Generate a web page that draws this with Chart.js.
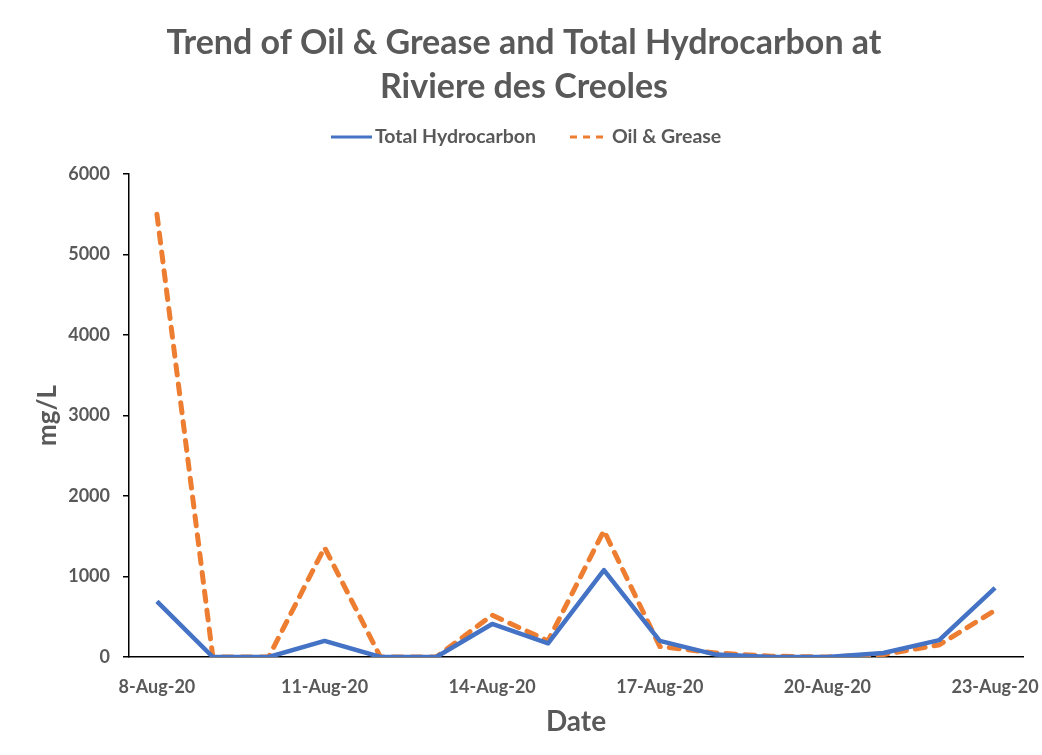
<!DOCTYPE html>
<html>
<head>
<meta charset="utf-8">
<script src="https://cdn.jsdelivr.net/npm/chart.js@4/dist/chart.umd.min.js"></script>
<style>
html,body{margin:0;padding:0;background:#fff;}
#wrap{width:1042px;height:755px;position:relative;}
</style>
</head>
<body>
<div id="wrap"><canvas id="c"></canvas></div>
<script>
const dates = ["8-Aug-20","9-Aug-20","10-Aug-20","11-Aug-20","12-Aug-20","13-Aug-20","14-Aug-20","15-Aug-20","16-Aug-20","17-Aug-20","18-Aug-20","19-Aug-20","20-Aug-20","21-Aug-20","22-Aug-20","23-Aug-20"];
const totalHydrocarbon = [690, 0, 0, 200, 0, 0, 410, 170, 1080, 200, 30, 0, 0, 50, 210, 860];
const oilGrease = [5500, 0, 0, 1360, 0, 0, 520, 200, 1570, 130, 50, 10, 0, 30, 150, 580];
const yTicks = [0, 1000, 2000, 3000, 4000, 5000, 6000];
const titleLines = ["Trend of Oil & Grease and Total Hydrocarbon at", "Riviere des Creoles"];

const GRAY = '#595959';
const FONT = 'Lato, "Open Sans", sans-serif';

const headerPlugin = {
  id: 'header',
  afterDraw(chart) {
    const ctx = chart.ctx;
    ctx.save();
    ctx.fillStyle = GRAY;
    ctx.textAlign = 'center';
    ctx.textBaseline = 'middle';
    ctx.font = 'bold 34px ' + FONT;
    ctx.fillText(titleLines[0], 524, 43);
    ctx.fillText(titleLines[1], 524, 87);
    // legend
    const ds = chart.data.datasets;
    ctx.font = 'bold 19.5px ' + FONT;
    ctx.textAlign = 'left';
    const items = [{x1: 331, x2: 372, tx: 375}, {x1: 570, x2: 605, tx: 612}];
    ds.forEach((d, i) => {
      const it = items[i];
      ctx.beginPath();
      ctx.strokeStyle = d.borderColor;
      ctx.lineWidth = 3;
      ctx.setLineDash(d.borderDash ? [7, 6] : []);
      ctx.lineCap = 'butt';
      ctx.moveTo(it.x1, 137);
      ctx.lineTo(it.x2, 137);
      ctx.stroke();
      ctx.setLineDash([]);
      ctx.fillStyle = GRAY;
      ctx.fillText(d.label, it.tx, 137);
    });
    ctx.restore();
  }
};

new Chart(document.getElementById('c'), {
  type: 'line',
  data: {
    labels: dates,
    datasets: [
      {label: 'Total Hydrocarbon', data: totalHydrocarbon, borderColor: '#4472C4', backgroundColor: '#4472C4', borderWidth: 4.5, pointRadius: 0, tension: 0, borderJoinStyle: 'round'},
      {label: 'Oil & Grease', data: oilGrease, borderColor: '#ED7D31', backgroundColor: '#ED7D31', borderWidth: 5, borderDash: [10, 9], borderCapStyle: 'round', pointRadius: 0, tension: 0}
    ]
  },
  options: {
    responsive: true,
    maintainAspectRatio: false,
    animation: false,
    layout: {padding: {top: 174, right: 19, left: 0, bottom: 0}},
    plugins: {legend: {display: false}, title: {display: false}, tooltip: {enabled: false}},
    scales: {
      x: {
        offset: true,
        grid: {display: false, drawTicks: false},
        border: {display: true, color: '#000', width: 1.5},
        ticks: {
          autoSkip: false, maxRotation: 0, padding: 19, color: GRAY,
          font: {family: FONT, size: 18, weight: 'bold'},
          callback: function(v, i) { return i % 3 === 0 ? dates[i] : ''; }
        },
        title: {display: true, text: 'Date', color: GRAY, font: {family: FONT, size: 28, weight: 'bold'}, padding: {top: 0, bottom: 16}},
        afterFit(s) { s.height = 98; s.paddingLeft = 0; s.paddingRight = 0; }
      },
      y: {
        min: 0, max: 6000,
        afterBuildTicks(s) { s.ticks = yTicks.map(v => ({value: v})); },
        grid: {display: true, drawOnChartArea: false, drawTicks: true, tickLength: 6, color: '#000', lineWidth: 1.5},
        border: {display: true, color: '#000', width: 1.5},
        ticks: {padding: 13, color: GRAY, font: {family: FONT, size: 18, weight: 'bold'}, callback: v => String(v)},
        title: {display: true, text: 'mg/L', color: GRAY, font: {family: FONT, size: 26, weight: 'bold'}, padding: {top: 32, bottom: 0}},
        afterFit(s) { s.width = 129; }
      }
    }
  },
  plugins: [headerPlugin]
});
</script>
</body>
</html>
